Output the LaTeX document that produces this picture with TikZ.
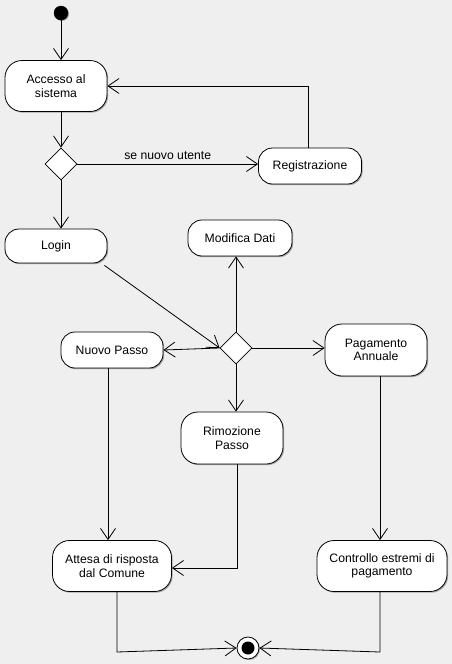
\documentclass[tikz,border=0pt]{standalone}
\usepackage{fontspec}
\setmainfont{Liberation Sans}
\usetikzlibrary{arrows.meta,shapes.geometric,shadows}
\definecolor{bgcol}{RGB}{239,239,239}
\tikzset{
  activity/.style={draw=black, line width=0.8pt, fill=white, rounded corners=17pt,
    align=center, inner sep=0pt, font=\fontsize{12.2}{13.5}\selectfont,
    drop shadow={shadow xshift=1.2pt, shadow yshift=-1.2pt, fill=black!35, opacity=1}},
  lowactivity/.style={activity, rounded corners=14pt},
  decision/.style={draw=black, line width=0.8pt, fill=white, diamond, aspect=1,
    inner sep=0pt, minimum width=32pt, minimum height=32pt},
  flow/.style={draw=black, line width=0.8pt, -{Straight Barb[length=11pt,width=15pt,line width=0.8pt]}},
  lbl/.style={font=\fontsize{12.2}{13.5}\selectfont}
}
\begin{document}
\begin{tikzpicture}[x=1pt,y=-1pt]
  \fill[bgcol] (0,0) rectangle (452,664);
  \useasboundingbox (0,0) rectangle (452,664);

  % initial node
  \node[circle, fill=black, draw=black, minimum size=14pt, inner sep=0pt,
        drop shadow={shadow xshift=1pt, shadow yshift=-1pt, fill=black!35, opacity=1}] (start) at (61,13) {};

  % activities
  \node[activity, minimum width=102pt, minimum height=51pt] (accesso) at (56,86) {Accesso al\\sistema};
  \node[decision] (d1) at (61,164) {};
  \node[lowactivity, minimum width=103pt, minimum height=36pt] (reg) at (310,166) {Registrazione};
  \node[lowactivity, minimum width=102pt, minimum height=34pt] (login) at (56,246) {Login};
  \node[lowactivity, minimum width=104pt, minimum height=36pt] (mod) at (240,238) {Modifica Dati};
  \node[decision] (d2) at (236,348) {};
  \node[lowactivity, minimum width=102pt, minimum height=36pt] (nuovo) at (112,350) {Nuovo Passo};
  \node[activity, minimum width=102pt, minimum height=52pt] (pag) at (376,350) {Pagamento\\Annuale};
  \node[activity, minimum width=102pt, minimum height=52pt] (rim) at (232,438) {Rimozione\\Passo};
  \node[activity, minimum width=119pt, minimum height=51pt] (attesa) at (112,566) {Attesa di risposta\\dal Comune};
  \node[activity, minimum width=130pt, minimum height=51pt] (contr) at (382,566) {Controllo estremi di\\pagamento};

  % final node
  \node[circle, draw=black, line width=0.8pt, fill=white, minimum size=22pt, inner sep=0pt,
        drop shadow={shadow xshift=1pt, shadow yshift=-1pt, fill=black!35, opacity=1}] (end) at (248,648) {};
  \fill[black] (end.center) circle (6.5pt);

  % bends of the joining flows
  \coordinate (jl) at (117,652);
  \coordinate (jr) at (380,652);

  % control flows
  \draw[flow] (start.south) -- (start.south |- accesso.north);
  \draw[flow] (start.south |- accesso.south) -- (d1.north);
  \draw[flow] (d1.east) -- (d1.east -| reg.west) node[lbl, midway, above=1pt] {se nuovo utente};
  \draw[flow] ([xshift=-2pt]reg.north) |- (accesso.east);
  \draw[flow] (d1.south) -- (d1.south |- login.north);
  \draw[flow] ([xshift=-3pt,yshift=-2pt]login.south east) -- (d2.west);
  \draw[flow] (d2.north) -- (d2.north |- mod.south);
  \draw[flow] (d2.west) -- (nuovo.east);
  \draw[flow] (d2.east) -- (d2.east -| pag.west);
  \draw[flow] (d2.south) -- (d2.south |- rim.north);
  \draw[flow] ([xshift=-4pt]nuovo.south) -- ([xshift=-4pt]attesa.north);
  \draw[flow] ([xshift=5pt]rim.south) |- ([yshift=-2pt]attesa.east);
  \draw[flow] ([xshift=4pt]pag.south) -- ([xshift=4pt]pag.south |- contr.north);
  \draw[flow] (attesa.south -| jl) -- (jl) -- (end.west);
  \draw[flow] (contr.south -| jr) -- (jr) -- (end.east);
\end{tikzpicture}
\end{document}
